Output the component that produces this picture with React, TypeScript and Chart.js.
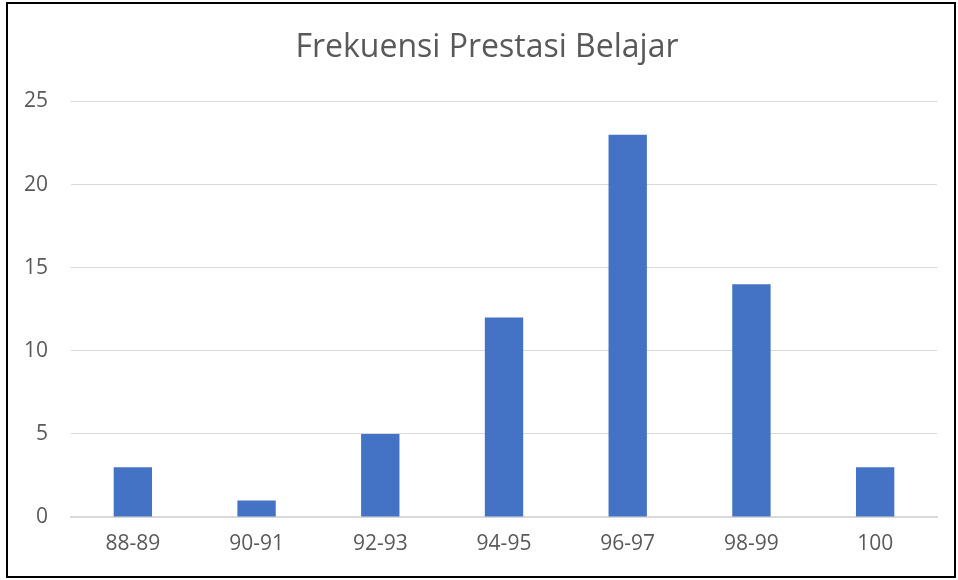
import React, { useEffect, useRef } from "react";
import { Chart, registerables } from "chart.js";

Chart.register(...registerables);

const chartTitle = "Frekuensi Prestasi Belajar";
const categories = ["88-89", "90-91", "92-93", "94-95", "96-97", "98-99", "100"];
const frequencies = [3, 1, 5, 12, 23, 14, 3];
const yTickMax = 25;
const yTickStep = 5;

const titleShift = {
  id: "titleShift",
  afterLayout(chart: any) {
    if (chart.titleBlock) {
      chart.titleBlock.left = 37;
    }
  },
};

export default function App() {
  const ref = useRef<HTMLCanvasElement | null>(null);

  useEffect(() => {
    document.body.style.margin = "0";
    const ctx = ref.current;
    if (!ctx) return;
    const chart = new Chart(ctx, {
      type: "bar",
      data: {
        labels: categories,
        datasets: [
          {
            label: "Frekuensi",
            data: frequencies,
            backgroundColor: "#4472C4",
            barPercentage: 0.31,
            categoryPercentage: 1,
          },
        ],
      },
      plugins: [titleShift],
      options: {
        animation: false,
        responsive: false,
        layout: { padding: { left: 0, right: 21, top: 0, bottom: 0 } },
        plugins: {
          legend: { display: false },
          tooltip: { enabled: false },
          title: {
            display: true,
            text: chartTitle,
            color: "#595959",
            font: { family: "'Open Sans'", size: 32, weight: "normal" },
            padding: { top: 29, bottom: 34 },
          },
        },
        scales: {
          x: {
            grid: { display: false, drawTicks: false },
            border: { display: true, color: "#D9D9D9", width: 2 },
            ticks: {
              color: "#595959",
              font: { family: "'Open Sans'", size: 21 },
              padding: 14,
              maxRotation: 0,
            },
            afterFit: (s: any) => {
              s.height = 63;
            },
          },
          y: {
            min: 0,
            max: yTickMax,
            grid: { color: "#D9D9D9", lineWidth: 1, drawTicks: false },
            border: { display: false },
            ticks: {
              stepSize: yTickStep,
              color: "#595959",
              font: { family: "'Open Sans'", size: 21 },
              padding: 23,
            },
            afterFit: (s: any) => {
              s.width = 71;
            },
          },
        },
      },
    });
    return () => chart.destroy();
  }, []);

  return (
    <div style={{ position: "absolute", left: 0, top: 0, width: 958, height: 580, background: "#fff" }}>
      <canvas ref={ref} width={958} height={580} style={{ position: "absolute", left: 0, top: 0 }} />
      <div
        style={{
          position: "absolute",
          left: 6,
          top: 2,
          width: 946,
          height: 572,
          border: "2px solid #000",
          pointerEvents: "none",
        }}
      />
    </div>
  );
}
